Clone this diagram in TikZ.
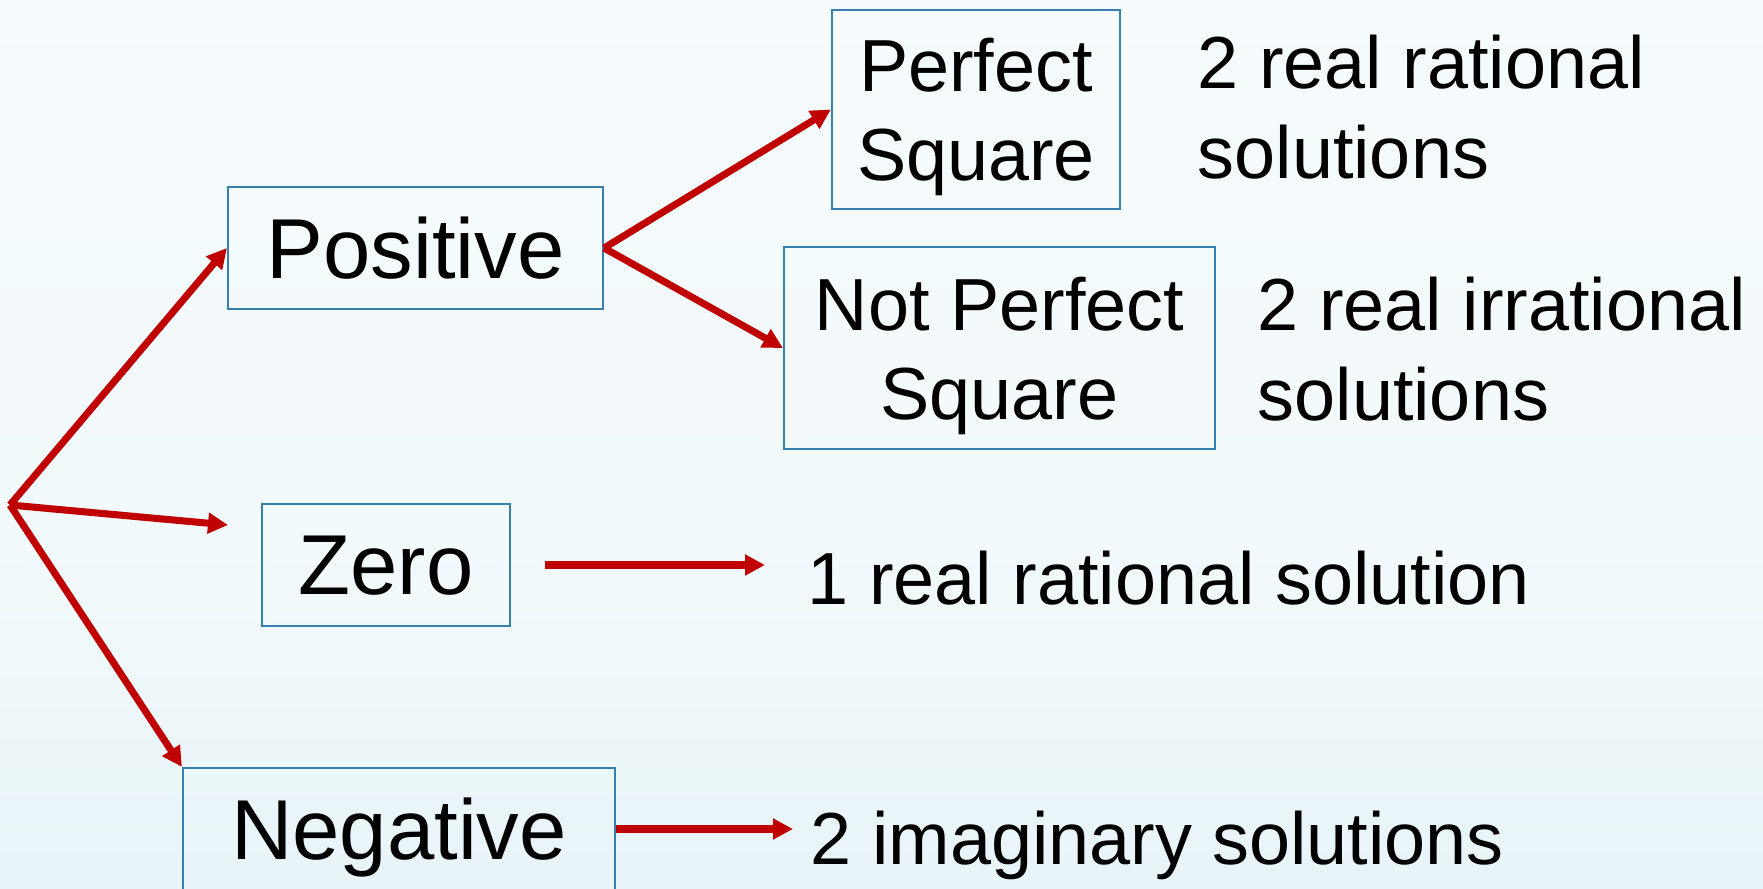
\documentclass[tikz,border=0pt]{standalone}
\usepackage{fontspec}
\setmainfont{Liberation Sans}
\usepackage{tikz}
\usetikzlibrary{arrows.meta}
\definecolor{arrred}{HTML}{C00000}
\definecolor{boxblue}{HTML}{3580AD}
\definecolor{bgtop}{HTML}{F8FCFD}
\definecolor{bgmid}{HTML}{F3FAFC}
\definecolor{bglow}{HTML}{E6F3F7}
\definecolor{bgbot}{HTML}{CFE6ED}
\pgfdeclareverticalshading{bgshade}{100bp}{color(0bp)=(bgbot); color(22bp)=(bglow); color(45bp)=(bgmid); color(100bp)=(bgtop)}
\newcommand{\bigtxt}{\fontsize{24.2}{29}\selectfont}
\newcommand{\smalltxt}{\fontsize{21}{25.4}\selectfont}
\tikzset{
  box/.style={draw=boxblue, line width=0.6pt, inner sep=0pt, align=center, text depth=0pt},
  arr/.style={arrred, line width=2pt, -{Triangle[length=0.2cm,width=0.2cm]}},
  note/.style={inner sep=0pt, align=left, anchor=base west, font=\smalltxt}
}
\begin{document}
\begin{tikzpicture}
\useasboundingbox (0,0) rectangle (17.63,8.88);
\shade[shading=bgshade] (0,0) rectangle (17.63,8.88);
% discriminant cases
\node[box, minimum width=3.75cm, minimum height=1.22cm, font=\bigtxt] (pos) at (4.155,6.40) {Positive};
\node[box, minimum width=2.48cm, minimum height=1.22cm, font=\bigtxt] (zero) at (3.86,3.23) {Zero};
\node[box, minimum width=4.32cm, minimum height=1.22cm, font=\bigtxt] (neg) at (3.99,0.59) {Negative};
\node[box, minimum width=2.88cm, minimum height=1.99cm, font=\smalltxt] (sq) at (9.76,7.785) {Perfect\\Square};
\node[box, minimum width=4.31cm, minimum height=2.02cm, font=\smalltxt] (nsq) at (9.995,5.40) {Not Perfect\\Square};
% kinds of solutions (base = last line)
\node[note] (rat) at (11.97,7.10) {2 real rational\\solutions};
\node[note] (irr) at (12.57,4.68) {2 real irrational\\solutions};
\node[note] (one) at (8.07,2.84) {1 real rational solution};
\node[note] (two) at (8.10,0.24) {2 imaginary solutions};
\coordinate (o) at (0.10,3.83);
\coordinate (zt) at (2.28,3.63);
\draw[arr] (o) -- (pos.west);
\draw[arr] (o) -- (zt);
\draw[arr] (o) -- (neg.north west);
\draw[arr] (pos.east) -- (sq.west);
\draw[arr] (pos.east) -- (nsq.west);
\draw[arr, shorten <=0.34cm, shorten >=0.42cm] (zero.east) -- (zero.east -| one.west);
\draw[arr, shorten >=0.17cm] (neg.east) -- (neg.east -| two.west);
\end{tikzpicture}
\end{document}
